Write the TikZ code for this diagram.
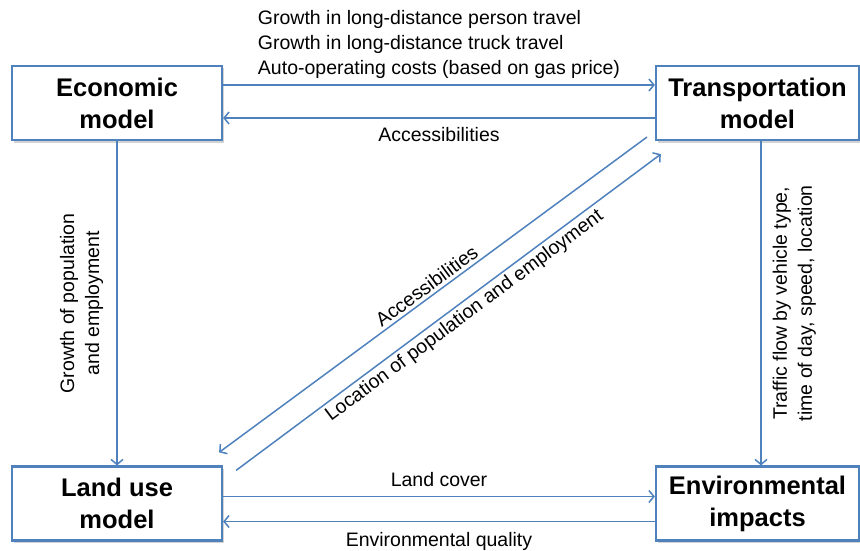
\documentclass[tikz,border=0pt]{standalone}
\usepackage{fontspec}
\setmainfont{Liberation Sans}
\usetikzlibrary{arrows.meta,shadows}
\definecolor{linkblue}{RGB}{79,129,189}
\tikzset{
  model/.style={draw=linkblue, line width=2.2pt, fill=white, minimum height=74pt,
    align=center, font=\fontsize{25.5}{32}\selectfont\bfseries,
    drop shadow={shadow xshift=2pt, shadow yshift=-2.5pt, opacity=0.35}},
  link/.style={draw=linkblue, line width=1.5pt},
  tip/.style={-{Straight Barb[length=5pt,width=12pt]}},
  back/.style={{Straight Barb[length=5pt,width=12pt]}-},
  lbl/.style={font=\fontsize{19.5}{25}\selectfont, inner sep=3pt}
}

\begin{document}
\begin{tikzpicture}[x=1pt,y=-1pt]
  \useasboundingbox (0,0) rectangle (860,551);
  \node[model, minimum width=210pt] (econ)  at (117,103)   {Economic\\model};
  \node[model, minimum width=203pt] (trans) at (757.5,103) {Transportation\\model};
  \node[model, minimum width=210pt] (land)  at (117,503.5) {Land use\\model};
  \node[model, minimum width=203pt] (env)   at (757.5,503.5) {Environmental\\impacts};

  \draw[link,tip]  ([yshift=18pt]econ.east) -- node[lbl,above=3pt,align=left]
       {Growth in long-distance person travel\\Growth in long-distance truck travel\\Auto-operating costs (based on gas price)}
       ([yshift=18pt]trans.west);
  \draw[link,tip]  ([yshift=-15pt]trans.west) -- node[lbl,below=6pt] {Accessibilities} ([yshift=-15pt]econ.east);

  \draw[link,tip]  (econ.south) -- node[lbl,rotate=90,above=10pt,align=center]
       {Growth of population\\and employment} (land.north);
  \draw[link,tip]  ([xshift=3.5pt]trans.south) -- node[lbl,rotate=90,below=8pt,align=center]
       {Traffic flow by vehicle type,\\time of day, speed, location} ([xshift=3.5pt]env.north);

  \draw[link,back] ([xshift=-4pt,yshift=13pt]land.north east) -- node[lbl,sloped,above]
       {Accessibilities} ([xshift=-8pt,yshift=4pt]trans.south west);
  \draw[link,tip]  ([xshift=13pt,yshift=-5pt]land.north east) -- node[lbl,sloped,below,pos=0.52]
       {Location of population and employment} ([xshift=6pt,yshift=-13pt]trans.south west);

  \draw[link,tip]  ([yshift=7pt]land.east) -- node[lbl,above=6pt] {Land cover} ([yshift=7pt]env.west);
  \draw[link,tip]  ([yshift=-18pt]env.west) -- node[lbl,below=7pt] {Environmental quality} ([yshift=-18pt]land.east);
\end{tikzpicture}
\end{document}
